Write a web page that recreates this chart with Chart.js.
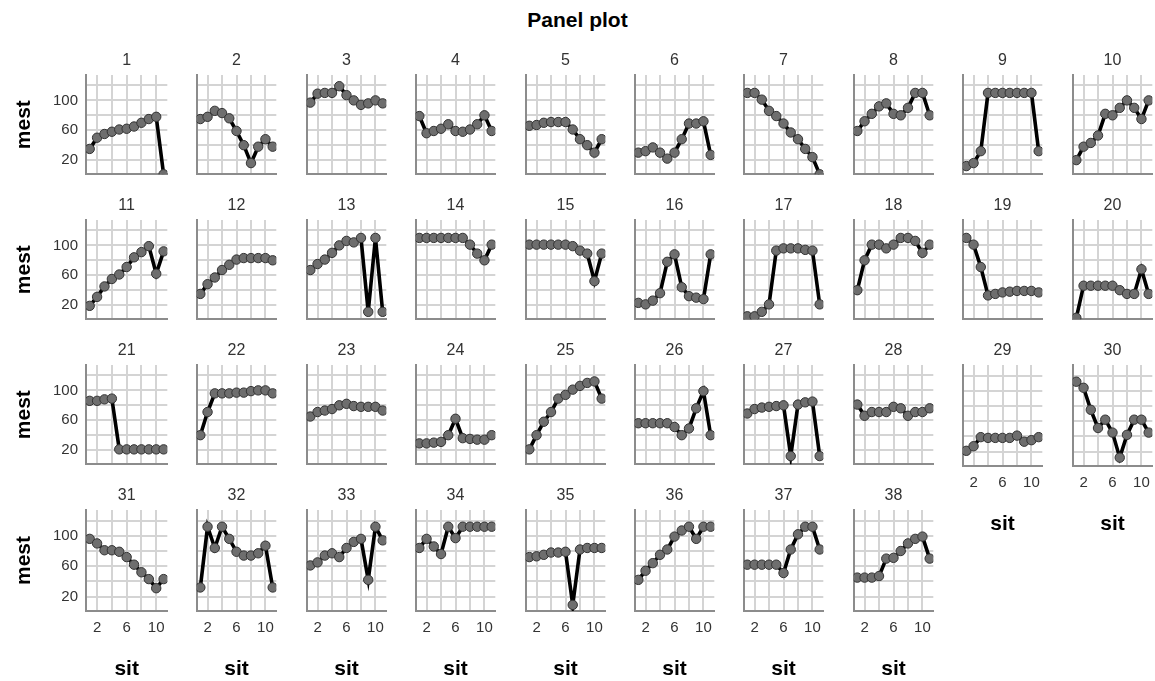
<!DOCTYPE html>
<html lang="en">
<head>
<meta charset="utf-8">
<title>Panel plot</title>
<style>
    html, body { margin: 0; padding: 0; overflow: hidden; background: #fff; }
    body { position: relative; width: 1155px; height: 681px; }
    #title {
        position: absolute; left: 0; top: 8px; width: 1155px;
        text-align: center; color: #000; line-height: 24px;
        font: bold 21px 'Liberation Sans', Arial, sans-serif;
    }
    canvas { position: absolute; }
</style>
</head>
<body>
<div id="title">Panel plot</div>
<script src="https://cdn.jsdelivr.net/npm/chart.js"></script>
<script>
// situation number on the x axis
var sit = [1, 2, 3, 4, 5, 6, 7, 8, 9, 10, 11];

// mest per case, one array per panel
var case1  = [35, 50, 55, 58, 61, 62, 65, 70, 75, 78, 1];
var case2  = [75, 78, 86, 83, 76, 59, 40, 16, 38, 48, 38];
var case3  = [97, 109, 110, 110, 119, 107, 100, 94, 96, 100, 96];
var case4  = [79, 56, 59, 62, 68, 59, 58, 61, 68, 80, 59];
var case5  = [66, 67, 70, 71, 71, 71, 61, 48, 40, 30, 48];
var case6  = [30, 32, 37, 30, 22, 30, 48, 69, 69, 72, 27];
var case7  = [110, 110, 101, 86, 79, 69, 57, 48, 35, 24, 1];
var case8  = [59, 72, 82, 92, 96, 82, 80, 90, 110, 110, 80];
var case9  = [12, 16, 32, 110, 110, 110, 110, 110, 110, 110, 32];
var case10 = [20, 38, 43, 53, 82, 80, 90, 100, 90, 75, 100];
var case11 = [19, 31, 45, 55, 61, 71, 84, 91, 99, 62, 92];
var case12 = [35, 48, 57, 67, 74, 81, 83, 83, 83, 83, 80];
var case13 = [67, 75, 81, 90, 100, 106, 104, 110, 11, 110, 11];
var case14 = [110, 110, 110, 110, 110, 110, 110, 101, 89, 80, 101];
var case15 = [101, 101, 101, 101, 101, 101, 99, 93, 89, 52, 89];
var case16 = [23, 21, 26, 36, 78, 88, 44, 32, 30, 28, 88];
var case17 = [5, 5, 11, 21, 93, 96, 96, 96, 94, 93, 21];
var case18 = [40, 80, 101, 101, 96, 101, 110, 110, 106, 90, 101];
var case19 = [110, 101, 71, 33, 35, 37, 38, 39, 39, 39, 37];
var case20 = [3, 46, 46, 46, 46, 46, 40, 35, 35, 68, 35];
var case21 = [86, 86, 88, 89, 21, 21, 21, 21, 21, 21, 21];
var case22 = [40, 71, 96, 96, 96, 97, 97, 99, 100, 100, 96];
var case23 = [65, 71, 73, 75, 80, 82, 79, 78, 78, 78, 73];
var case24 = [29, 29, 30, 31, 40, 62, 36, 35, 34, 34, 40];
var case25 = [21, 40, 58, 71, 89, 94, 101, 106, 110, 112, 89];
var case26 = [56, 56, 56, 56, 56, 51, 40, 49, 76, 99, 40];
var case27 = [69, 75, 77, 78, 79, 80, 12, 81, 84, 85, 12];
var case28 = [81, 66, 71, 71, 71, 78, 76, 66, 71, 71, 76];
var case29 = [21, 27, 39, 38, 38, 38, 38, 41, 33, 35, 39];
var case30 = [112, 104, 75, 51, 62, 45, 12, 42, 62, 62, 45];
var case31 = [96, 90, 81, 81, 79, 72, 62, 52, 43, 31, 43];
var case32 = [32, 112, 84, 112, 96, 79, 74, 74, 77, 87, 32];
var case33 = [61, 65, 74, 77, 72, 84, 92, 96, 42, 112, 94];
var case34 = [84, 96, 86, 76, 112, 97, 112, 112, 112, 112, 112];
var case35 = [72, 73, 75, 78, 78, 79, 9, 82, 84, 84, 84];
var case36 = [42, 54, 64, 75, 82, 99, 107, 112, 96, 112, 112];
var case37 = [62, 62, 62, 62, 62, 51, 82, 102, 112, 112, 82];
var case38 = [45, 45, 45, 47, 70, 71, 80, 90, 96, 99, 70];

var cases = [case1, case2, case3, case4, case5, case6, case7, case8, case9, case10,
             case11, case12, case13, case14, case15, case16, case17, case18, case19, case20,
             case21, case22, case23, case24, case25, case26, case27, case28, case29, case30,
             case31, case32, case33, case34, case35, case36, case37, case38];

// grid positions and the ones that get a label
var yGrid = [20, 40, 60, 80, 100, 120];
var yLabels = [20, 60, 100];
var xGrid = [2, 4, 6, 8, 10];
var xLabels = [2, 6, 10];

Chart.defaults.font.family = "'Liberation Sans', Arial, sans-serif";
Chart.defaults.color = '#333';

var COLS = 10, PLOT_W = 87, PLOT_H = 101, TITLE_H = 24;

cases.forEach(function(vals, i) {
    var row = Math.floor(i / COLS), col = i % COLS;
    var showY = col === 0;
    var showX = i + COLS >= cases.length; // nothing below this panel
    var yW = showY ? 86 : 4;
    var xH = showX ? 71 : 4;
    var plotLeft = Math.round(86 + col * 109.4);
    var plotTop = 75 + row * 145;

    var cv = document.createElement('canvas');
    cv.width = yW + PLOT_W;
    cv.height = TITLE_H + PLOT_H + xH;
    cv.style.left = (plotLeft - yW) + 'px';
    cv.style.top = (plotTop - TITLE_H) + 'px';
    document.body.appendChild(cv);

    new Chart(cv, {
        type: 'line',
        data: {
            datasets: [{
                data: sit.map(function(x, k) { return {x: x, y: vals[k]}; }),
                borderColor: '#000',
                borderWidth: 3.6,
                tension: 0,
                pointRadius: 4.7,
                pointBackgroundColor: '#6e6e6e',
                pointBorderColor: '#333',
                pointBorderWidth: 1
            }]
        },
        options: {
            responsive: false,
            animation: false,
            events: [],
            layout: { padding: 0 },
            plugins: {
                legend: { display: false },
                tooltip: { enabled: false },
                title: {
                    display: true,
                    fullSize: false,
                    text: String(i + 1),
                    color: '#333',
                    font: { size: 16, weight: 'normal', lineHeight: '20px' },
                    padding: { top: 0, bottom: 4 }
                }
            },
            scales: {
                x: {
                    type: 'linear', min: 0.5, max: 11.5,
                    afterBuildTicks: function(s) { s.ticks = xGrid.map(function(v) { return {value: v}; }); },
                    afterFit: function(s) { s.height = xH; s.paddingLeft = 0; s.paddingRight = 0; },
                    grid: { color: '#d4d4d4', lineWidth: 2, drawTicks: false },
                    border: { color: '#8c8c8c', width: 2 },
                    ticks: {
                        display: showX, padding: 8, maxRotation: 0, autoSkip: false,
                        font: { size: 15 }, color: '#333',
                        callback: function(v) { return xLabels.indexOf(v) >= 0 ? String(v) : ''; }
                    },
                    title: {
                        display: showX, text: 'sit', color: '#000',
                        font: { size: 21, weight: 'bold' }, padding: 0
                    }
                },
                y: {
                    type: 'linear', min: 1, max: 134,
                    afterBuildTicks: function(s) { s.ticks = yGrid.map(function(v) { return {value: v}; }); },
                    afterFit: function(s) { s.width = yW; s.paddingTop = 0; s.paddingBottom = 0; },
                    grid: { color: '#d4d4d4', lineWidth: 2, drawTicks: false },
                    border: { color: '#8c8c8c', width: 2 },
                    ticks: {
                        display: showY, padding: 8, autoSkip: false,
                        font: { size: 15 }, color: '#333',
                        callback: function(v) { return yLabels.indexOf(v) >= 0 ? String(v) : ''; }
                    },
                    title: {
                        display: showY, text: 'mest', color: '#000',
                        font: { size: 21, weight: 'bold' }, padding: { top: 12, bottom: 0 }
                    }
                }
            }
        }
    });
});
</script>
</body>
</html>
